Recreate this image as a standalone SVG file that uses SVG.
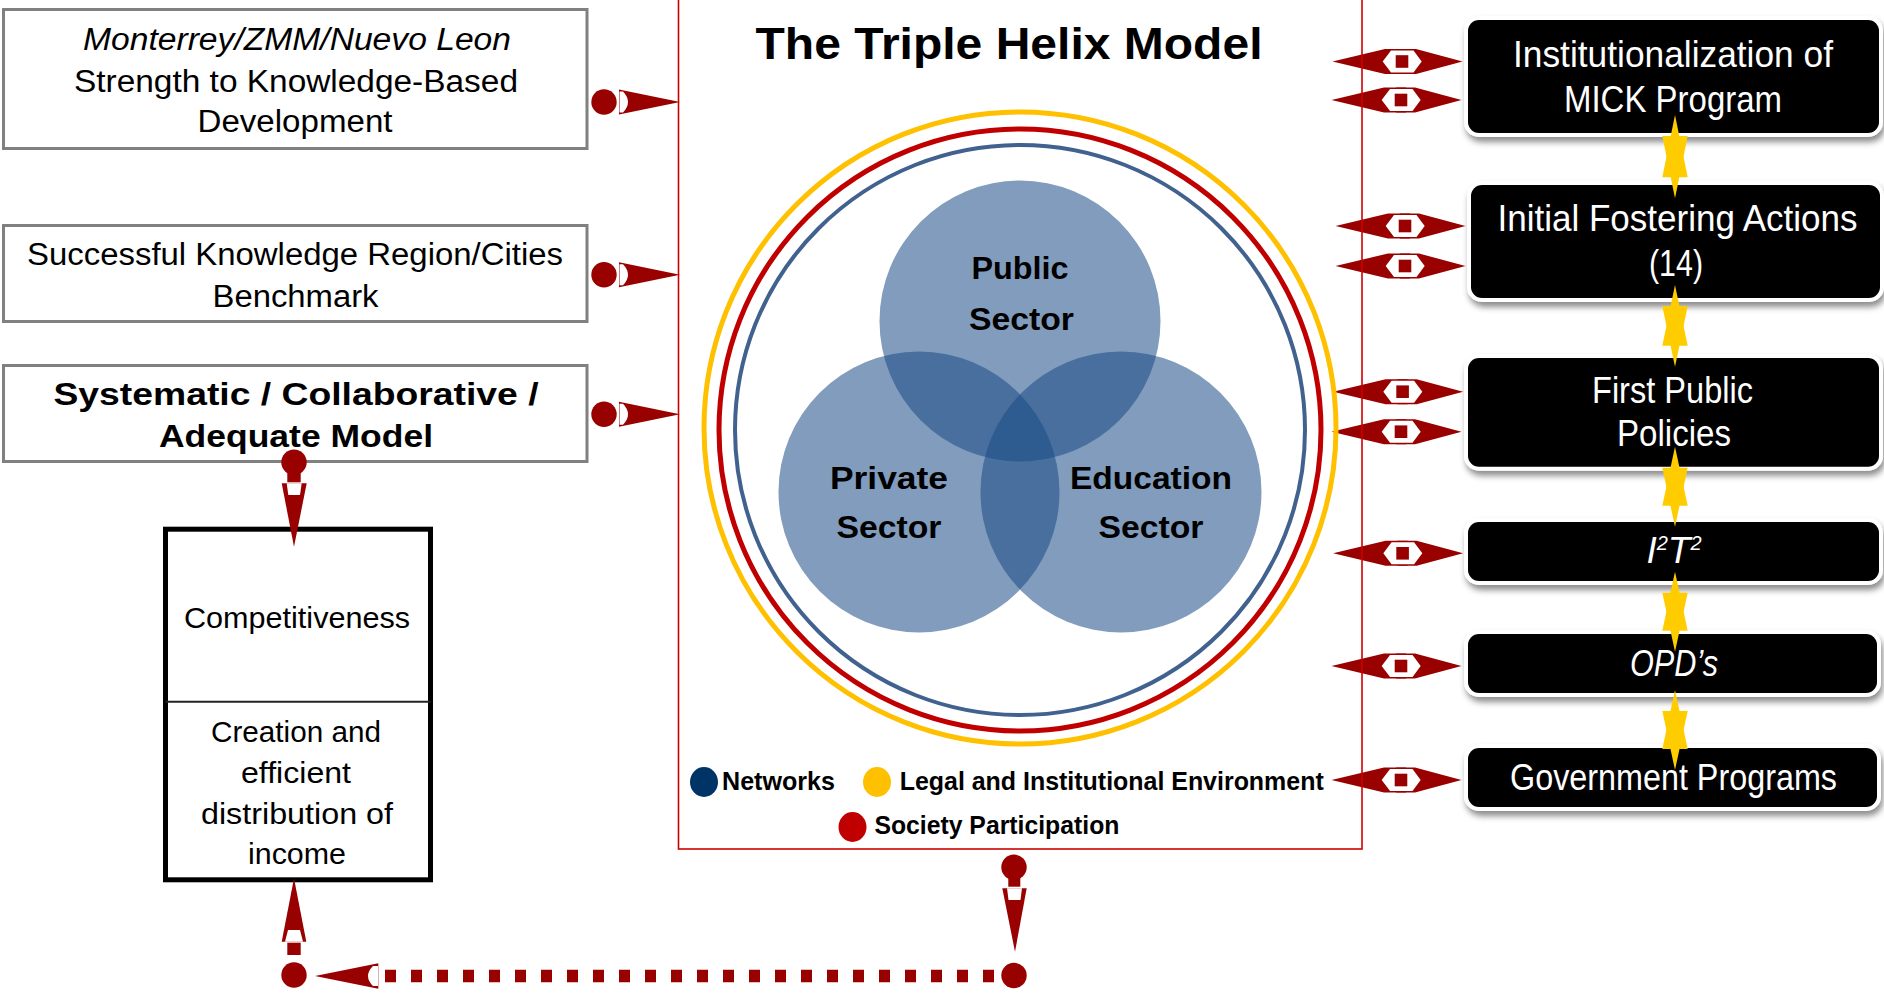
<svg xmlns="http://www.w3.org/2000/svg" width="1884" height="994" viewBox="0 0 1884 994">
<defs>
<style>
text{font-family:"Liberation Sans",Arial,sans-serif}
.lbox{fill:#fff;stroke:#808080;stroke-width:3}
.ltxt{font-size:31px;fill:#000;text-anchor:middle}
.ctxt{font-size:30px;fill:#000;text-anchor:middle}
.it{font-style:italic}
.bd{font-weight:bold}
.rbw{fill:#fff}
.rbb{fill:#000}
.rtxt{font-size:37px;fill:#fff;text-anchor:middle}
.venn{fill:#1a4a85;fill-opacity:.55}
.vtxt{font-size:31px;font-weight:bold;fill:#000;text-anchor:middle}
.leg{font-size:25px;font-weight:bold;fill:#000}
.dr{fill:#990000}
.wh{fill:#fff}
.star{fill:#ffcc00}
.dash{stroke:#990000;stroke-width:12.3;stroke-dasharray:11 15;fill:none}
</style>
<filter id="sh" x="-10%" y="-20%" width="125%" height="170%">
<feDropShadow dx="2" dy="5" stdDeviation="3" flood-color="#000" flood-opacity="0.45"/>
</filter>
<g id="dbl">
<polygon class="dr" points="-69.5,0 -17,-12.5 5,-12.5 5,12.5 -17,12.5"/>
<polygon class="dr" points="60.5,0 14,-12.5 -5,-12.5 -5,12.5 14,12.5"/>
<polygon class="wh" points="-19.3,0 -11,-11 11.5,-11 19.7,0 11.5,11 -11,11"/>
<rect class="dr" x="-6.3" y="-6.3" width="12.6" height="12.6"/>
</g>
<g id="rarr">
<circle class="dr" cx="604" cy="0" r="12.7"/>
<polygon class="dr" points="619,-12.5 680,0 619,12.5"/>
<path class="wh" d="M619.5,-10.5 L623,-10.5 Q633,0 623,10.5 L619.5,10.5 Z"/>
</g>
</defs>

<g id="box-monterrey">
<rect class="lbox" x="3.5" y="9.5" width="583.5" height="139"/>
<text class="ltxt it" x="297" y="50" textLength="428" lengthAdjust="spacingAndGlyphs">Monterrey/ZMM/Nuevo Leon</text>
<text class="ltxt" x="296" y="91.7" textLength="444" lengthAdjust="spacingAndGlyphs">Strength to Knowledge-Based</text>
<text class="ltxt" x="295" y="131.7" textLength="195" lengthAdjust="spacingAndGlyphs">Development</text>
</g>

<g id="box-benchmark">
<rect class="lbox" x="3.5" y="225.5" width="583.5" height="96"/>
<text class="ltxt" x="295" y="265" textLength="536" lengthAdjust="spacingAndGlyphs">Successful Knowledge Region/Cities</text>
<text class="ltxt" x="295.5" y="306.7" textLength="166" lengthAdjust="spacingAndGlyphs">Benchmark</text>
</g>

<g id="box-systematic">
<rect class="lbox" x="3.5" y="365.5" width="583.5" height="96"/>
<text class="ltxt bd" x="296" y="405" textLength="485" lengthAdjust="spacingAndGlyphs">Systematic / Collaborative /</text>
<text class="ltxt bd" x="296" y="446.7" textLength="274" lengthAdjust="spacingAndGlyphs">Adequate Model</text>
</g>

<g id="box-competitiveness">
<rect x="165.5" y="529.2" width="265" height="350.6" fill="#fff" stroke="#000" stroke-width="5"/>
<line x1="165.5" y1="701.7" x2="430.5" y2="701.7" stroke="#222" stroke-width="2"/>
<text class="ctxt" x="297" y="628" textLength="226" lengthAdjust="spacingAndGlyphs">Competitiveness</text>
<text class="ctxt" x="296" y="741.8" textLength="170" lengthAdjust="spacingAndGlyphs">Creation and</text>
<text class="ctxt" x="296" y="782.7" textLength="110" lengthAdjust="spacingAndGlyphs">efficient</text>
<text class="ctxt" x="297" y="823.5" textLength="192" lengthAdjust="spacingAndGlyphs">distribution of</text>
<text class="ctxt" x="297" y="864.4" textLength="98" lengthAdjust="spacingAndGlyphs">income</text>
</g>

<g id="box-mick">
<rect class="rbw" x="1464" y="16" width="419" height="121" rx="15" filter="url(#sh)"/>
<rect class="rbb" x="1468" y="20" width="411" height="113" rx="11"/>
<text class="rtxt" x="1673" y="66.7" textLength="320" lengthAdjust="spacingAndGlyphs">Institutionalization of</text>
<text class="rtxt" x="1673" y="111.7" textLength="218" lengthAdjust="spacingAndGlyphs">MICK Program</text>
</g>

<g id="box-fostering">
<rect class="rbw" x="1467" y="181" width="417" height="121" rx="15" filter="url(#sh)"/>
<rect class="rbb" x="1471" y="185" width="409" height="113" rx="11"/>
<text class="rtxt" x="1677.5" y="231" textLength="360" lengthAdjust="spacingAndGlyphs">Initial Fostering Actions</text>
<text class="rtxt" x="1676" y="276" textLength="54" lengthAdjust="spacingAndGlyphs">(14)</text>
</g>

<g id="box-policies">
<rect class="rbw" x="1464" y="354" width="419" height="116.7" rx="15" filter="url(#sh)"/>
<rect class="rbb" x="1468" y="358" width="411" height="108.7" rx="11"/>
<text class="rtxt" x="1672.5" y="403.3" textLength="161" lengthAdjust="spacingAndGlyphs">First Public</text>
<text class="rtxt" x="1674" y="446" textLength="114" lengthAdjust="spacingAndGlyphs">Policies</text>
</g>

<g id="box-i2t2">
<rect class="rbw" x="1464" y="518" width="419" height="67" rx="15" filter="url(#sh)"/>
<rect class="rbb" x="1468" y="522" width="411" height="59" rx="11"/>
<text class="rtxt it" x="1674" y="562.7" font-size="33">I<tspan font-size="20" dy="-13">2</tspan><tspan dy="13">T</tspan><tspan font-size="20" dy="-13">2</tspan></text>
</g>

<g id="box-opds">
<rect class="rbw" x="1464" y="630" width="417" height="67" rx="15" filter="url(#sh)"/>
<rect class="rbb" x="1468" y="634" width="409" height="59" rx="11"/>
<text class="rtxt it" x="1674" y="676" font-size="35" textLength="88" lengthAdjust="spacingAndGlyphs">OPD’s</text>
</g>

<g id="box-government">
<rect class="rbw" x="1464" y="744" width="417" height="67" rx="15" filter="url(#sh)"/>
<rect class="rbb" x="1468" y="748" width="409" height="59" rx="11"/>
<text class="rtxt" x="1673.5" y="790" font-size="35" textLength="327" lengthAdjust="spacingAndGlyphs">Government Programs</text>
</g>

<g id="connectors">
<use href="#rarr" transform="translate(0,102)"/>
<use href="#rarr" transform="translate(0,274.7)"/>
<use href="#rarr" transform="translate(0,414.3)"/>

<use href="#dbl" transform="translate(1402,61.5)"/>
<use href="#dbl" transform="translate(1401,100)"/>
<use href="#dbl" transform="translate(1405,226)"/>
<use href="#dbl" transform="translate(1405,266)"/>
<use href="#dbl" transform="translate(1402.6,391.7)"/>
<use href="#dbl" transform="translate(1401,431.7)"/>
<use href="#dbl" transform="translate(1402.6,553.3)"/>
<use href="#dbl" transform="translate(1401,666)"/>
<use href="#dbl" transform="translate(1401,780)"/>

<polygon class="star" points="1675,115 1687.7,177.3 1662.3,177.3"/>
<polygon class="star" points="1675,198.3 1687.7,136 1662.3,136"/>
<polygon class="star" points="1675,285 1687.7,345.7 1662.3,345.7"/>
<polygon class="star" points="1675,366.7 1687.7,306 1662.3,306"/>
<polygon class="star" points="1675,446.7 1687.7,505.7 1662.3,505.7"/>
<polygon class="star" points="1675,526.7 1687.7,467.7 1662.3,467.7"/>
<polygon class="star" points="1675,571.7 1687.7,630.7 1662.3,630.7"/>
<polygon class="star" points="1675,651.7 1687.7,592.7 1662.3,592.7"/>
<polygon class="star" points="1675,690 1687.7,749 1662.3,749"/>
<polygon class="star" points="1675,770 1687.7,711 1662.3,711"/>

<circle class="dr" cx="294" cy="462.3" r="12.7"/>
<rect class="dr" x="287.3" y="462" width="13.4" height="20.3"/>
<polygon class="dr" points="281.7,483.3 306.7,483.3 294,546.7"/>
<polygon class="wh" points="286.7,483.3 301.7,483.3 300,495 288.3,495"/>

<circle class="dr" cx="1014" cy="867.3" r="12.7"/>
<rect class="dr" x="1008.3" y="867" width="12" height="19.7"/>
<polygon class="dr" points="1002.3,888.3 1026.7,888.3 1015,951.7"/>
<polygon class="wh" points="1007,888.3 1022,888.3 1020.5,900 1008.5,900"/>
<circle class="dr" cx="1014" cy="975.5" r="12.7"/>

<line class="dash" x1="385" y1="976" x2="994" y2="976"/>
<polygon class="dr" points="315,976 378.3,963.3 378.3,988.7"/>
<path class="wh" d="M378,966 L373,966 Q363,976 373,986 L378,986 Z"/>

<polygon class="dr" points="294,878.3 281.7,941.7 306.3,941.7"/>
<polygon class="wh" points="288,930 300,930 303,941.7 285,941.7"/>
<rect class="dr" x="287.3" y="942.7" width="13.4" height="12.3"/>
<circle class="dr" cx="294" cy="975" r="12.7"/>
</g>

<g id="triple-helix">
<rect x="678.5" y="-10" width="683.5" height="859" fill="none" stroke="#cc0000" stroke-width="1.6"/>
<text x="1009" y="59" font-size="45" font-weight="bold" text-anchor="middle" fill="#000" textLength="507" lengthAdjust="spacingAndGlyphs">The Triple Helix Model</text>
<circle cx="1020" cy="428" r="316" fill="none" stroke="#ffc000" stroke-width="5"/>
<circle cx="1020" cy="430" r="301" fill="none" stroke="#c00000" stroke-width="5"/>
<circle cx="1020" cy="430" r="285" fill="none" stroke="#41628f" stroke-width="4"/>
<circle class="venn" cx="1020" cy="321" r="140.5"/>
<circle class="venn" cx="919" cy="492" r="140.5"/>
<circle class="venn" cx="1121" cy="492" r="140.5"/>
<text class="vtxt" x="1020" y="279" textLength="97" lengthAdjust="spacingAndGlyphs">Public</text>
<text class="vtxt" x="1021.5" y="330" textLength="105" lengthAdjust="spacingAndGlyphs">Sector</text>
<text class="vtxt" x="889" y="489" textLength="118" lengthAdjust="spacingAndGlyphs">Private</text>
<text class="vtxt" x="889" y="538" textLength="105" lengthAdjust="spacingAndGlyphs">Sector</text>
<text class="vtxt" x="1151" y="489" textLength="162" lengthAdjust="spacingAndGlyphs">Education</text>
<text class="vtxt" x="1151" y="538" textLength="105" lengthAdjust="spacingAndGlyphs">Sector</text>
<ellipse cx="704" cy="782" rx="14" ry="15" fill="#003366"/>
<text class="leg" x="722" y="790" textLength="113" lengthAdjust="spacingAndGlyphs">Networks</text>
<ellipse cx="877" cy="782" rx="14" ry="15" fill="#ffc000"/>
<text class="leg" x="899.7" y="790" textLength="424" lengthAdjust="spacingAndGlyphs">Legal and Institutional Environment</text>
<ellipse cx="852.5" cy="827" rx="14" ry="15" fill="#c00000"/>
<text class="leg" x="874.4" y="834" textLength="245" lengthAdjust="spacingAndGlyphs">Society Participation</text>
</g>
</svg>
